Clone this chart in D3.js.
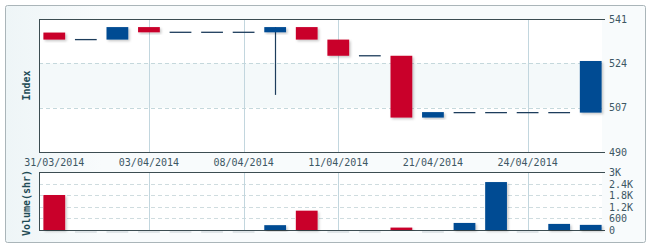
<!DOCTYPE html>
<html>
<head>
<meta charset="utf-8">
<script src="https://cdn.jsdelivr.net/npm/d3@7"></script>
<style>
  body { margin: 0; background: #fff; }
  svg text { font-family: "DejaVu Sans Mono", monospace; }
</style>
</head>
<body>
<div id="chart"></div>
<script>
// trading days
var dates = ["31/03/2014", "01/04/2014", "02/04/2014", "03/04/2014", "04/04/2014", "07/04/2014",
    "08/04/2014", "09/04/2014", "10/04/2014", "11/04/2014", "14/04/2014", "15/04/2014",
    "21/04/2014", "22/04/2014", "23/04/2014", "24/04/2014", "25/04/2014", "28/04/2014"];
var opens  = [535.8, 533.1, 533.1, 537.9, 535.9, 535.9, 535.9, 535.9, 537.9, 533.1, 526.9, 526.9,
    503.2, 505.1, 505.1, 505.1, 505.1, 505.1];
var closes = [533.1, 533.1, 537.9, 535.9, 535.9, 535.9, 535.9, 537.9, 533.1, 526.9, 526.9, 503.2,
    505.3, 505.1, 505.1, 505.1, 505.1, 524.9];
var lows   = [533.1, 533.1, 533.1, 535.9, 535.9, 535.9, 535.9, 511.9, 533.1, 526.9, 526.9, 503.2,
    503.2, 505.1, 505.1, 505.1, 505.1, 505.1];
var highs  = [535.8, 533.1, 537.9, 537.9, 535.9, 535.9, 535.9, 537.9, 537.9, 533.1, 526.9, 526.9,
    505.3, 505.1, 505.1, 505.1, 505.1, 524.9];
var volumes = [1810, 0, 0, 0, 0, 0, 0, 250, 1000, 0, 0, 125, 0, 365, 2480, 0, 315, 265];

var priceTicks = [490, 507, 524, 541];
var volumeTicks = [0, 600, 1200, 1800, 2400, 3000];
var volumeTickLabels = ["0", "600", "1.2K", "1.8K", "2.4K", "3K"];
var labelDates = ["31/03/2014", "03/04/2014", "08/04/2014", "11/04/2014", "21/04/2014", "24/04/2014"];
var gridDates = ["03/04/2014", "08/04/2014", "11/04/2014", "24/04/2014"];

var width = 650, height = 246;
var red = "#c9002b", blue = "#004b93", flat = "#1d3d5c";
var left = 39, right = 602;

var svg = d3.select("#chart").append("svg")
    .attr("width", width)
    .attr("height", height);

var defs = svg.append("defs");
var grad = defs.append("linearGradient").attr("id", "bg").attr("x1", 0).attr("y1", 0).attr("x2", 1).attr("y2", 0);
grad.append("stop").attr("offset", "0%").attr("stop-color", "#eef5f7");
grad.append("stop").attr("offset", "15%").attr("stop-color", "#f8fbfc");
grad.append("stop").attr("offset", "100%").attr("stop-color", "#f8fbfc");

var shadow = defs.append("filter").attr("id", "shadow")
    .attr("x", "-20%").attr("y", "-20%").attr("width", "160%").attr("height", "160%");
shadow.append("feDropShadow")
    .attr("dx", 1.5).attr("dy", 1.5).attr("stdDeviation", 1)
    .attr("flood-color", "#000").attr("flood-opacity", 0.22);

// frame
svg.append("rect")
    .attr("x", 5.5).attr("y", 5.5)
    .attr("width", 640).attr("height", 237)
    .attr("rx", 2)
    .attr("fill", "url(#bg)")
    .attr("stroke", "#aab5b9");

var x = d3.scaleBand()
    .domain(dates)
    .range([38.5, 606.5])
    .paddingInner(0.31)
    .paddingOuter(0.155);

var y = d3.scaleLinear().domain([490, 541]).range([152, 19]);
var yv = d3.scaleLinear().domain([0, 3000]).range([230, 172]);

function cx(d) { return x(d) + x.bandwidth() / 2; }

// plot backgrounds
svg.append("rect").attr("x", left).attr("y", y(541)).attr("width", right - left).attr("height", y(490) - y(541)).attr("fill", "#fff");
svg.append("rect").attr("x", left).attr("y", y(524)).attr("width", right - left).attr("height", y(507) - y(524)).attr("fill", "#f4f9fa");
svg.append("rect").attr("x", left).attr("y", yv(3000)).attr("width", right - left).attr("height", yv(0) - yv(3000)).attr("fill", "#fff");

// horizontal dashed grid
svg.selectAll(".pgrid").data([507, 524]).enter().append("line")
    .attr("x1", left).attr("x2", right)
    .attr("y1", function (d) { return Math.round(y(d)) + 0.5; })
    .attr("y2", function (d) { return Math.round(y(d)) + 0.5; })
    .attr("stroke", "#c5d8dc").attr("stroke-dasharray", "4,3");

svg.selectAll(".vgrid").data([600, 1200, 1800, 2400]).enter().append("line")
    .attr("x1", left).attr("x2", right)
    .attr("y1", function (d) { return Math.round(yv(d)) + 0.5; })
    .attr("y2", function (d) { return Math.round(yv(d)) + 0.5; })
    .attr("stroke", "#cfdcdf").attr("stroke-dasharray", "4,3");

// vertical grid
gridDates.forEach(function (d) {
    var gx = Math.round(cx(d)) + 0.5;
    svg.append("line").attr("x1", gx).attr("x2", gx).attr("y1", y(541)).attr("y2", y(490)).attr("stroke", "#c2d6de");
    svg.append("line").attr("x1", gx).attr("x2", gx).attr("y1", yv(3000)).attr("y2", yv(0)).attr("stroke", "#c2d6de");
});

// axis borders
var axisColor = "#3c4d52";
function hline(yy, x1, x2) {
    svg.append("line").attr("x1", x1).attr("x2", x2).attr("y1", Math.round(yy) + 0.5).attr("y2", Math.round(yy) + 0.5).attr("stroke", axisColor);
}
function vline(xx, y1, y2) {
    svg.append("line").attr("x1", xx + 0.5).attr("x2", xx + 0.5).attr("y1", y1).attr("y2", y2).attr("stroke", axisColor);
}
hline(y(541), left, 605);
hline(y(490), left, 605);
vline(left, y(541), y(490));
hline(yv(3000), left, 605);
hline(yv(0), left, 605);
vline(left, yv(3000), yv(0));

// candles
var idx = d3.range(dates.length);
var candles = svg.append("g");

candles.selectAll(".wick").data(idx.filter(function (i) { return lows[i] < Math.min(opens[i], closes[i]) || highs[i] > Math.max(opens[i], closes[i]); }))
    .enter().append("line")
    .attr("x1", function (i) { return Math.round(cx(dates[i])) + 0.5; })
    .attr("x2", function (i) { return Math.round(cx(dates[i])) + 0.5; })
    .attr("y1", function (i) { return y(highs[i]); })
    .attr("y2", function (i) { return y(lows[i]); })
    .attr("stroke", flat).attr("stroke-width", 1.2);

candles.selectAll(".body").data(idx.filter(function (i) { return opens[i] !== closes[i]; }))
    .enter().append("rect")
    .attr("x", function (i) { return x(dates[i]); })
    .attr("width", x.bandwidth())
    .attr("y", function (i) { return y(Math.max(opens[i], closes[i])); })
    .attr("height", function (i) { return Math.max(4, Math.abs(y(opens[i]) - y(closes[i]))); })
    .attr("fill", function (i) { return closes[i] > opens[i] ? blue : red; })
    .attr("filter", "url(#shadow)");

candles.selectAll(".flat").data(idx.filter(function (i) { return opens[i] === closes[i]; }))
    .enter().append("line")
    .attr("x1", function (i) { return x(dates[i]); })
    .attr("x2", function (i) { return x(dates[i]) + x.bandwidth(); })
    .attr("y1", function (i) { return y(closes[i]); })
    .attr("y2", function (i) { return y(closes[i]); })
    .attr("stroke", flat).attr("stroke-width", 1.3);

// volume bars
svg.selectAll(".vol").data(idx).enter().append("rect")
    .attr("x", function (i) { return x(dates[i]); })
    .attr("width", x.bandwidth())
    .attr("y", function (i) { return volumes[i] > 0 ? yv(volumes[i]) : yv(0) + 1; })
    .attr("height", function (i) { return volumes[i] > 0 ? yv(0) - yv(volumes[i]) : 2; })
    .attr("fill", function (i) {
        if (volumes[i] === 0) return "#dfe5e8";
        return closes[i] >= opens[i] ? blue : red;
    })
    .attr("filter", function (i) { return volumes[i] > 0 ? "url(#shadow)" : null; });

// price labels
svg.selectAll(".plab").data(priceTicks).enter().append("text")
    .attr("x", 609)
    .attr("y", function (d) { return y(d) + 3.5; })
    .attr("font-size", 10)
    .attr("fill", "#3d5764")
    .text(function (d) { return d; });

// volume labels
svg.selectAll(".vlab").data(volumeTicks).enter().append("text")
    .attr("x", 609)
    .attr("y", function (d) { return yv(d) + 4; })
    .attr("font-size", 10)
    .attr("fill", "#3d5764")
    .text(function (d, i) { return volumeTickLabels[i]; });

// date labels
svg.selectAll(".dlab").data(labelDates).enter().append("text")
    .attr("x", function (d) { return cx(d); })
    .attr("y", 166)
    .attr("text-anchor", "middle")
    .attr("font-size", 10)
    .attr("fill", "#3d5764")
    .text(function (d) { return d; });

// axis titles
svg.append("text")
    .attr("transform", "translate(30," + ((y(541) + y(490)) / 2) + ") rotate(-90)")
    .attr("text-anchor", "middle")
    .attr("font-size", 10).attr("font-weight", "bold")
    .attr("fill", "#1f4b55")
    .text("Index");

svg.append("text")
    .attr("transform", "translate(30," + ((yv(3000) + yv(0)) / 2 + 2) + ") rotate(-90)")
    .attr("text-anchor", "middle")
    .attr("font-size", 10).attr("font-weight", "bold")
    .attr("fill", "#1f4b55")
    .text("Volume(shr)");
</script>
</body>
</html>
